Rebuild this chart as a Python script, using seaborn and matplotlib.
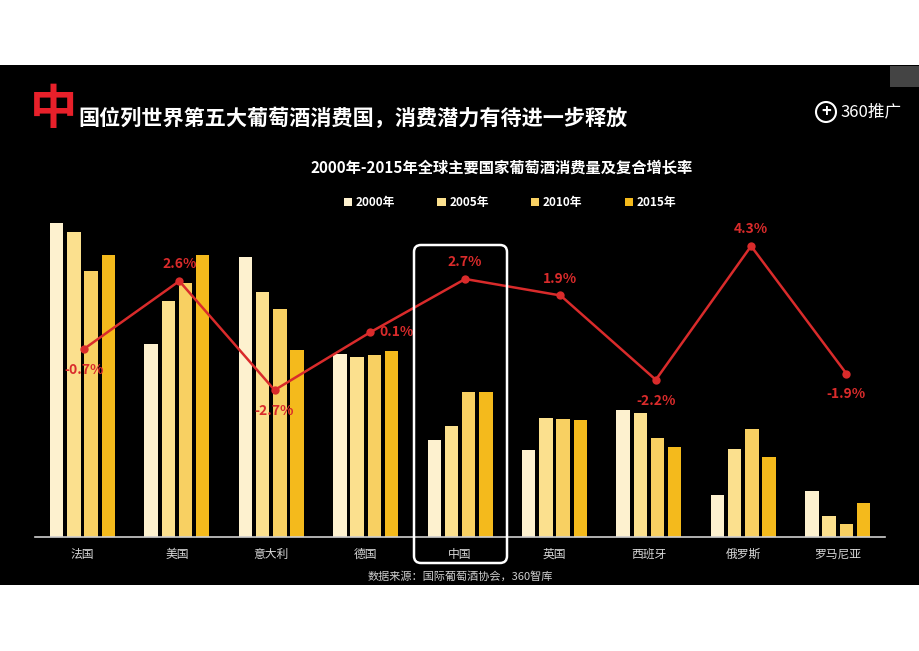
import pandas as pd
import seaborn as sns
import matplotlib
matplotlib.use('Agg')
import matplotlib.pyplot as plt
from matplotlib.patches import Rectangle, FancyBboxPatch, Circle

countries = ['法国', '美国', '意大利', '德国', '中国', '英国', '西班牙', '俄罗斯', '罗马尼亚']
years = ['2000年', '2005年', '2010年', '2015年']
v2000 = [31.4, 19.3, 28.0, 18.3, 9.7, 8.7, 12.7, 4.2, 4.6]
v2005 = [30.5, 23.6, 24.5, 18.0, 11.1, 11.9, 12.4, 8.8, 2.1]
v2010 = [26.6, 25.4, 22.8, 18.2, 14.5, 11.8, 9.9, 10.8, 1.3]
v2015 = [28.2, 28.2, 18.7, 18.6, 14.5, 11.7, 9.0, 8.0, 3.4]
cagr = [-0.7, 2.6, -2.7, 0.1, 2.7, 1.9, -2.2, 4.3, -1.9]
label_pos = ['below', 'above', 'below', 'right', 'above', 'above', 'below', 'above', 'below']

bar_colors = ['#FDF1CF', '#FBE08E', '#F8D062', '#F4BA1C']
red = '#D92B2B'

plt.rcParams['font.family'] = ['Noto Sans CJK SC', 'DejaVu Sans']

rows = []
for yr, vals in zip(years, [v2000, v2005, v2010, v2015]):
    for c, v in zip(countries, vals):
        rows.append({'country': c, 'year': yr, 'value': v})
df = pd.DataFrame(rows)

fig = plt.figure(figsize=(9.2, 6.51), dpi=100, facecolor='white')
W, H = 920, 651

# black slide background
fig.add_artist(Rectangle((0, (H - 585) / H), 1, (585 - 65) / H, transform=fig.transFigure,
                         facecolor='black', edgecolor='none', zorder=-10))
fig.add_artist(Rectangle((890 / W, (H - 87) / H), 30 / W, 21 / H, transform=fig.transFigure,
                         facecolor='#444444', edgecolor='none', zorder=-9))

# bar axes: pixels 35..885 horizontally, 215..537 vertically
rect = [35.3 / W, (H - 537) / H, 849.6 / W, 322 / H]
ax = fig.add_axes(rect)
ax.set_facecolor('none')
sns.barplot(data=df, x='country', y='value', hue='year', palette=bar_colors,
            width=0.73, gap=0.22, saturation=1, linewidth=0, ax=ax)
handles, labels = ax.get_legend_handles_labels()
ax.get_legend().remove()
ax.set_xlim(-0.5, 8.5)
ax.set_ylim(0, 32.2)
ax.set_xlabel('')
ax.set_ylabel('')
ax.set_yticks([])
for s in ['top', 'right', 'left']:
    ax.spines[s].set_visible(False)
ax.spines['bottom'].set_color('#cfcfcf')
ax.spines['bottom'].set_linewidth(1.2)
ax.tick_params(axis='x', colors='#d8d8d8', length=0, pad=8, labelsize=8.5)

# growth-rate line on its own overlay axes
ax2 = fig.add_axes(rect)
ax2.patch.set_visible(False)
ax2.axis('off')
xs = list(range(len(countries)))
sns.lineplot(x=xs, y=cagr, color=red, lw=1.8, marker='o', markersize=6,
             markeredgewidth=0, ax=ax2)
ax2.set_xlim(-0.511, 8.404)
ax2.set_ylim(-9.84, 5.81)
for x, v, p in zip(xs, cagr, label_pos):
    if p == 'above':
        off, ha, va = (0, 12), 'center', 'center'
    elif p == 'below':
        off, ha, va = (0, -15), 'center', 'center'
    else:
        off, ha, va = (7, 0), 'left', 'center'
    ax2.annotate(f'{v:.1f}%', (x, v), xytext=off, textcoords='offset points',
                 ha=ha, va=va, color=red, fontsize=10, fontweight='bold')

# decorations in pixel coordinates
deco = fig.add_axes([0, 0, 1, 1], zorder=10)
deco.patch.set_visible(False)
deco.axis('off')
deco.set_xlim(0, W)
deco.set_ylim(H, 0)

deco.add_patch(FancyBboxPatch((414, 245), 93, 318, boxstyle='round,pad=0,rounding_size=7',
                              facecolor='none', edgecolor='white', lw=1.8))

deco.text(54, 110, '中', color='#E8202A', fontsize=34, fontweight='bold', ha='center', va='center')
deco.text(78, 118, '国位列世界第五大葡萄酒消费国，消费潜力有待进一步释放', color='white',
          fontsize=15.2, fontweight='bold', ha='left', va='center')
deco.text(502, 168, '2000年-2015年全球主要国家葡萄酒消费量及复合增长率', color='white',
          fontsize=11, fontweight='bold', ha='center', va='center')
deco.text(460, 576, '数据来源：国际葡萄酒协会，360智库', color='#cfcfcf',
          fontsize=8, ha='center', va='center')

deco.add_patch(Circle((826, 112), 10, facecolor='none', edgecolor='white', lw=1.5))
deco.text(826, 112, '+', color='white', fontsize=12, fontweight='bold', ha='center', va='center')
deco.text(840, 112, '360推广', color='white', fontsize=12, ha='left', va='center')

fig.legend(handles, labels, loc='center', bbox_to_anchor=(510 / W, (H - 203) / H), ncol=4,
           frameon=False, handlelength=0.7, handleheight=0.7, handletextpad=0.3,
           columnspacing=3.6, labelcolor='white', prop={'size': 8.5, 'weight': 'bold'})

fig.savefig('out.png', dpi=100, facecolor='white')
